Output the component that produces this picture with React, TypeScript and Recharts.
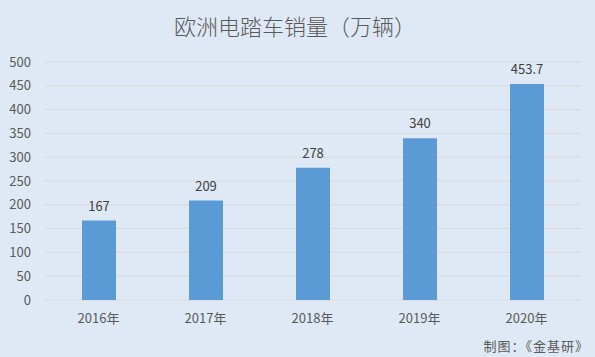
import React from 'react';
import { BarChart, Bar, XAxis, YAxis, CartesianGrid, LabelList } from 'recharts';

const categories = ['2016年', '2017年', '2018年', '2019年', '2020年'];
const sales = [167, 209, 278, 340, 453.7];
const yTicks = [0, 50, 100, 150, 200, 250, 300, 350, 400, 450, 500];

const data = categories.map((c, i) => ({ year: c, value: sales[i] }));

const font = '"Noto Sans CJK SC", "Noto Sans", sans-serif';

export default function App() {
  return (
    <div style={{ position: 'absolute', left: 0, top: 0, width: 595, height: 357, background: '#dee9f5', fontFamily: font }}>
      <div style={{ position: 'absolute', left: 0, top: 10, width: 590, textAlign: 'center', fontSize: 22, color: '#595959', lineHeight: '30px', fontWeight: 300 }}>
        欧洲电踏车销量（万辆）
      </div>
      <BarChart width={595} height={357} data={data} margin={{ top: 62, right: 15, bottom: 27, left: 0 }}>
        <CartesianGrid vertical={false} stroke="#d9d9d9" />
        <XAxis dataKey="year" axisLine={false} tickLine={false} tickMargin={8} tick={{ fill: '#595959', fontSize: 13, fontFamily: font }} />
        <YAxis domain={[0, 500]} ticks={yTicks} interval={0} width={45} axisLine={false} tickLine={false} tickMargin={8} tick={{ fill: '#595959', fontSize: 13, fontFamily: font }} />
        <Bar dataKey="value" fill="#5b9bd5" barSize={34} isAnimationActive={false}>
          <LabelList dataKey="value" position="top" offset={10} style={{ fill: '#404040', fontSize: 13, fontFamily: font }} />
        </Bar>
      </BarChart>
      <div style={{ position: 'absolute', right: 6, top: 336, fontSize: 13, color: '#595959', letterSpacing: 1 }}>
        制图：《金基研》
      </div>
    </div>
  );
}
